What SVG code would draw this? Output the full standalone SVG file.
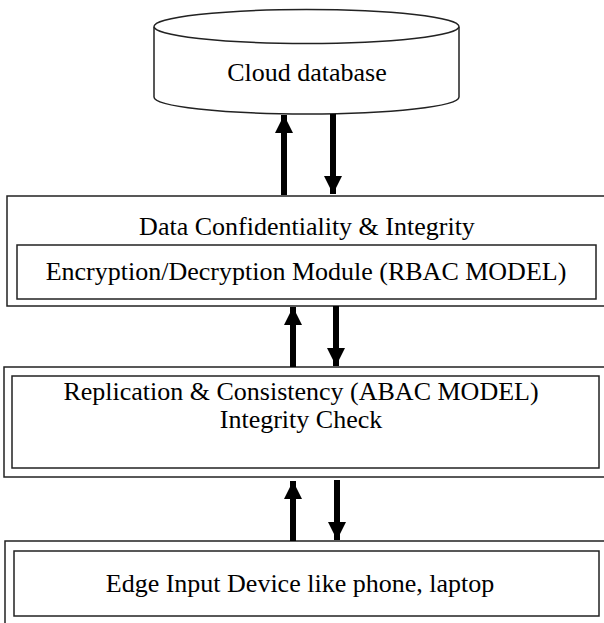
<svg xmlns="http://www.w3.org/2000/svg" width="604" height="623" viewBox="0 0 604 623">
<defs>
<marker id="ah" markerUnits="userSpaceOnUse" markerWidth="18" markerHeight="18" viewBox="0 0 18 18" refX="18" refY="9" orient="auto">
<path d="M0,0 L18,9 L0,18 Z" fill="#000"/>
</marker>
</defs>
<style>
.box{fill:#fff;stroke:#222;stroke-width:1.5}
.t{font-family:"Liberation Serif","Times New Roman",serif;font-size:26px;fill:#000;text-anchor:middle}
.a{stroke:#000;stroke-width:6;fill:none;marker-end:url(#ah)}
</style>
<rect width="604" height="623" fill="#fff"/>
<g id="cloud">
<path class="box" d="M154,27 L154,97 A152.5,17 0 0 0 459,97 L459,27" />
<ellipse class="box" cx="306.5" cy="26.5" rx="152.5" ry="17"/>
<text class="t" x="307" y="81">Cloud database</text>
</g>
<g id="security">
<rect class="box" x="7" y="196" width="610" height="110"/>
<text class="t" x="307" y="235">Data Confidentiality &amp; Integrity</text>
<rect class="box" x="17" y="245" width="579" height="54"/>
<text class="t" x="306" y="280">Encryption/Decryption Module (RBAC MODEL)</text>
</g>
<g id="replication">
<rect class="box" x="4" y="367" width="613" height="110"/>
<rect class="box" x="12" y="376" width="587" height="92"/>
<text class="t" x="301" y="400">Replication &amp; Consistency (ABAC MODEL)</text>
<text class="t" x="301" y="428">Integrity Check</text>
</g>
<g id="edge">
<rect class="box" x="5" y="541" width="612" height="100"/>
<rect class="box" x="14" y="551" width="585" height="65"/>
<text class="t" x="300" y="592">Edge Input Device like phone, laptop</text>
</g>
<g id="connectors">
<line class="a" x1="284" y1="195" x2="284" y2="115"/>
<line class="a" x1="333" y1="114" x2="333" y2="194"/>
<line class="a" x1="293" y1="367" x2="293" y2="307"/>
<line class="a" x1="336" y1="306" x2="336" y2="366"/>
<line class="a" x1="293" y1="541" x2="293" y2="481"/>
<line class="a" x1="337" y1="480" x2="337" y2="540"/>
</g>
</svg>
